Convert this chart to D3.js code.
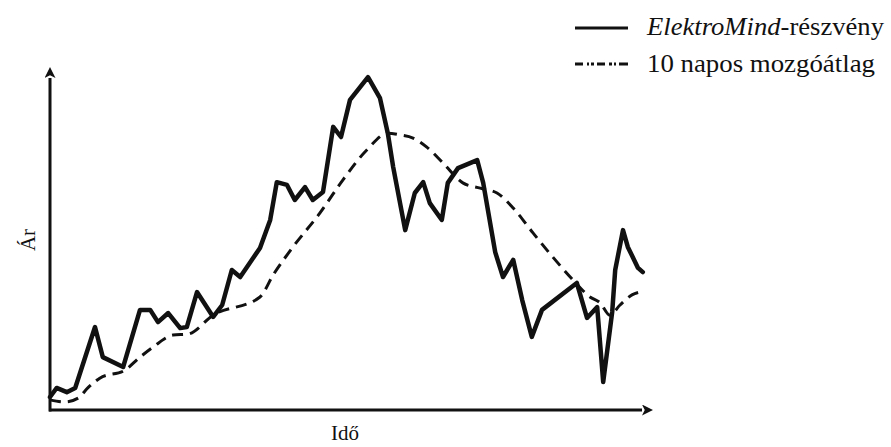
<!DOCTYPE html>
<html>
<head>
<meta charset="utf-8">
<script src="https://cdn.jsdelivr.net/npm/d3@7/dist/d3.min.js"></script>
<style>
  html, body { margin: 0; padding: 0; background: #fff; }
  svg { display: block; }
</style>
</head>
<body>
<svg id="chart" width="891" height="447" font-family="'Liberation Serif', 'Times New Roman', Times, 'DejaVu Serif', serif"></svg>
<script>
// Stock price (arbitrary units) by trading day
const stockDays = [0, 1.1, 2.8, 4.2, 7.5, 8.8, 12.2, 15, 16.7, 18, 19.7, 21.7, 22.8, 24.5, 27.2, 28.7,
  30.3, 31.7, 35, 36.7, 37.8, 39.5, 40.8, 42.5, 43.8, 45.5, 47.2, 48.5, 50, 53, 55, 56.3, 57.2,
  59.2, 60.8, 62.2, 63.3, 65.3, 66.3, 68, 71.2, 72.2, 74.2, 75.5, 77.2, 78.7, 80.3, 82, 87.8,
  89.5, 91.2, 92.2, 93.7, 94.2, 95.5, 96.3, 98, 98.8];
const stockPrice = [3.7, 6.3, 5.1, 6.3, 23.7, 15.1, 12.3, 28.6, 28.6, 25.1, 27.7, 23.4, 23.7, 33.7, 26.6, 30,
  40, 38, 46.3, 54.3, 65.1, 64.3, 60, 63.7, 60, 62.3, 80.9, 78, 88.6, 95.1, 89.1, 79.1, 69.4,
  51.4, 62, 65.1, 59.1, 54.3, 64.9, 69.1, 71.4, 64.9, 45.1, 38, 42.9, 31.4, 20.9, 28.6, 36.3,
  26.3, 29.4, 8, 28, 40, 51.4, 46.6, 40.6, 39.4];

// 10-day moving average
const maDays = [0, 2.5, 4.7, 6.3, 8.3, 12.5, 15, 17.2, 20.5, 23, 27.2, 35, 37.2, 40.5, 45, 48.8, 52.8,
  56.3, 58.3, 60.5, 62.8, 65.5, 68.8, 71.7, 74.5, 77.2, 80.5, 83.8, 87.2, 90, 91.7, 93.3, 95, 97, 98.3];
const maPrice = [2.9, 2.3, 3.4, 6.3, 9.1, 11.4, 15.1, 18, 21.4, 21.7, 27.1, 32.3, 38.6, 46.6, 56.3, 65.7, 74.3,
  79.1, 78.6, 77.7, 75.1, 70.6, 64.9, 63.4, 62, 57.7, 50.6, 43.7, 37.1, 32.3, 30.6, 27.1, 30, 32.9, 33.7];

const legendLabels = ["ElektroMind", "-részvény", "10 napos mozgóátlag"];
const axisLabels = { x: "Idő", y: "Ár" };

const svg = d3.select("#chart");

const x = d3.scaleLinear().domain([0, 100]).range([50, 650]);
const y = d3.scaleLinear().domain([0, 100]).range([410, 60]);

// arrowheads for the axes
const defs = svg.append("defs");
defs.append("marker")
  .attr("id", "arrow")
  .attr("viewBox", "0 0 10 10")
  .attr("refX", 0).attr("refY", 5)
  .attr("markerUnits", "userSpaceOnUse")
  .attr("markerWidth", 16).attr("markerHeight", 11)
  .attr("orient", "auto")
  .append("path")
  .attr("d", "M0,0 L10,5 L0,10 L2.5,5 Z")
  .attr("fill", "#111");

// axes without ticks
const xAxis = svg.append("g")
  .attr("transform", `translate(0,${y(0)})`)
  .call(d3.axisBottom(x).tickValues([]).tickSizeOuter(0));
const yAxis = svg.append("g")
  .attr("transform", `translate(${x(0)},0)`)
  .call(d3.axisLeft(y).tickValues([]).tickSizeOuter(0));

xAxis.select(".domain")
  .attr("d", `M${x(0) - 1},0H${x(100) - 8}`)
  .attr("stroke", "#111").attr("stroke-width", 3)
  .attr("marker-end", "url(#arrow)");
yAxis.select(".domain")
  .attr("d", `M0,${y(0) + 1.5}V${y(100) + 18}`)
  .attr("stroke", "#111").attr("stroke-width", 3)
  .attr("marker-end", "url(#arrow)");

// moving average (dashed)
const maLine = d3.line()
  .x((d, i) => x(maDays[i]))
  .y(d => y(d))
  .curve(d3.curveMonotoneX);
svg.append("path")
  .datum(maPrice)
  .attr("d", maLine)
  .attr("fill", "none")
  .attr("stroke", "#111")
  .attr("stroke-width", 3)
  .attr("stroke-dasharray", "11,7");

// stock price (solid)
const stockLine = d3.line()
  .x((d, i) => x(stockDays[i]))
  .y(d => y(d))
  .curve(d3.curveLinear);
svg.append("path")
  .datum(stockPrice)
  .attr("d", stockLine)
  .attr("fill", "none")
  .attr("stroke", "#111")
  .attr("stroke-width", 4.5)
  .attr("stroke-linejoin", "round")
  .attr("stroke-linecap", "round");

// axis titles
svg.append("text")
  .attr("x", 345).attr("y", 440)
  .attr("text-anchor", "middle")
  .attr("font-size", 21)
  .attr("fill", "#111")
  .text(axisLabels.x);
svg.append("text")
  .attr("transform", "translate(35,240) rotate(-90)")
  .attr("text-anchor", "middle")
  .attr("font-size", 21)
  .attr("fill", "#111")
  .text(axisLabels.y);

// legend
const legend = svg.append("g").attr("fill", "#111");
legend.append("line")
  .attr("x1", 575).attr("x2", 628).attr("y1", 28).attr("y2", 28)
  .attr("stroke", "#111").attr("stroke-width", 2.8);
const t1 = legend.append("text")
  .attr("x", 647).attr("y", 35)
  .attr("font-size", 26)
  .attr("textLength", 237)
  .attr("lengthAdjust", "spacingAndGlyphs");
t1.append("tspan").attr("font-style", "italic").text(legendLabels[0]);
t1.append("tspan").text(legendLabels[1]);

legend.append("line")
  .attr("x1", 575).attr("x2", 628).attr("y1", 64).attr("y2", 64)
  .attr("stroke", "#111").attr("stroke-width", 2.8)
  .attr("stroke-dasharray", "8,4,2,2,3,3,8,4,3,2,2,3,10");
legend.append("text")
  .attr("x", 647).attr("y", 72)
  .attr("font-size", 26)
  .attr("textLength", 228)
  .attr("lengthAdjust", "spacingAndGlyphs")
  .text(legendLabels[2]);
</script>
</body>
</html>
